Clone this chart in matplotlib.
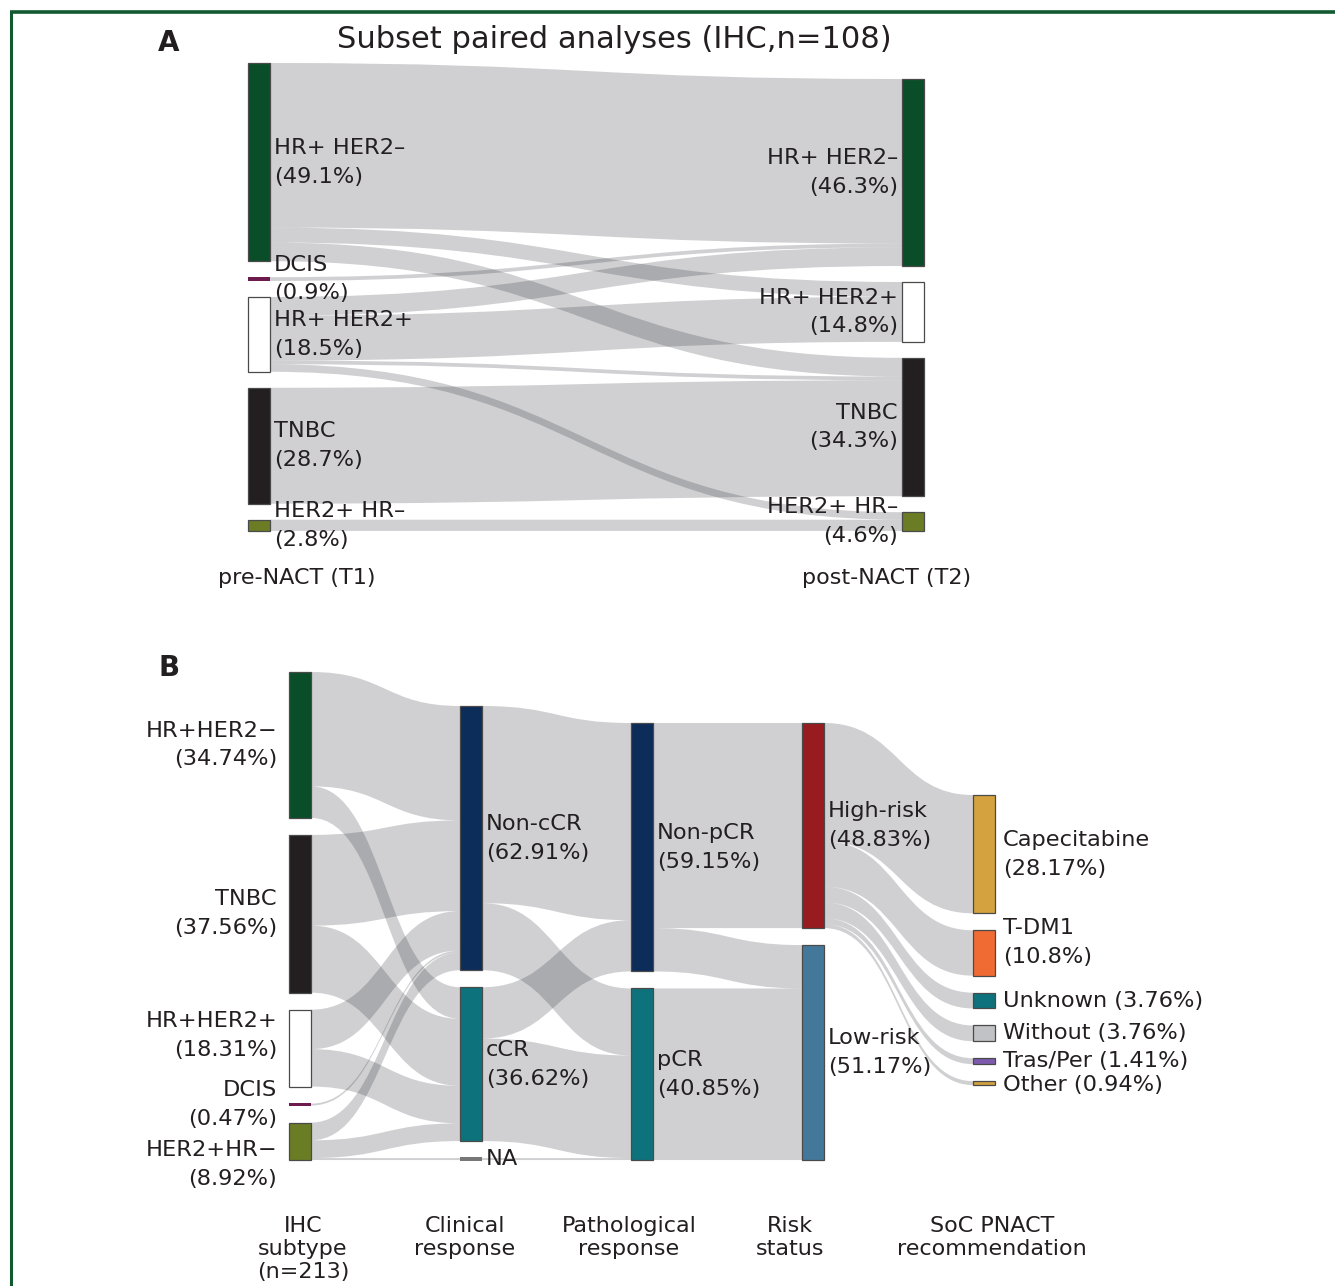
import matplotlib
matplotlib.use("Agg")
import matplotlib.pyplot as plt
from matplotlib.path import Path
from matplotlib.patches import PathPatch, Rectangle

# ---------------- Data: panel A (IHC paired subset, n=108) ----------------
a_left_labels = ["HR+ HER2–\n(49.1%)", "DCIS\n(0.9%)", "HR+ HER2+\n(18.5%)",
                 "TNBC\n(28.7%)", "HER2+ HR–\n(2.8%)"]
a_left_values = [53, 1, 20, 31, 3]
a_right_labels = ["HR+ HER2–\n(46.3%)", "HR+ HER2+\n(14.8%)", "TNBC\n(34.3%)",
                  "HER2+ HR–\n(4.6%)"]
a_right_values = [50, 16, 37, 5]
a_link_source = [0, 0, 0, 1, 2, 2, 2, 2, 3, 4]
a_link_target = [0, 1, 2, 0, 0, 1, 2, 3, 2, 3]
a_link_value = [44, 4, 5, 1, 5, 12, 1, 2, 31, 3]
a_axis_labels = ["pre-NACT (T1)", "post-NACT (T2)"]
a_title = "Subset paired analyses (IHC,n=108)"

# ---------------- Data: panel B (n=213) ----------------
b_ihc_labels = ["HR+HER2−\n(34.74%)", "TNBC\n(37.56%)", "HR+HER2+\n(18.31%)",
                "DCIS\n(0.47%)", "HER2+HR−\n(8.92%)"]
b_ihc_values = [74, 80, 39, 1, 19]
b_clin_labels = ["Non-cCR\n(62.91%)", "cCR\n(36.62%)", "NA"]
b_clin_values = [134, 78, 1]
b_path_labels = ["Non-pCR\n(59.15%)", "pCR\n(40.85%)"]
b_path_values = [126, 87]
b_risk_labels = ["High-risk\n(48.83%)", "Low-risk\n(51.17%)"]
b_risk_values = [104, 109]
b_soc_labels = ["Capecitabine\n(28.17%)", "T-DM1\n(10.8%)", "Unknown (3.76%)",
                "Without (3.76%)", "Tras/Per (1.41%)", "Other (0.94%)"]
b_soc_values = [60, 23, 8, 8, 3, 2]

b_ihc_clin_source = [0, 0, 1, 1, 2, 2, 3, 4, 4, 4]
b_ihc_clin_target = [0, 1, 0, 1, 0, 1, 0, 0, 1, 2]
b_ihc_clin_value = [58, 16, 46, 34, 20, 19, 1, 9, 9, 1]
b_clin_path_source = [0, 0, 1, 1, 2]
b_clin_path_target = [0, 1, 0, 1, 1]
b_clin_path_value = [100, 34, 26, 52, 1]
b_path_risk_source = [0, 0, 1]
b_path_risk_target = [0, 1, 1]
b_path_risk_value = [104, 22, 87]
b_risk_soc_source = [0, 0, 0, 0, 0, 0]
b_risk_soc_target = [0, 1, 2, 3, 4, 5]
b_risk_soc_value = [60, 23, 8, 8, 3, 2]
b_axis_labels = ["IHC\nsubtype\n(n=213)", "Clinical\nresponse", "Pathological\nresponse",
                 "Risk\nstatus", "SoC PNACT\nrecommendation"]

# ---------------- Styles ----------------
C_HRneg = "#0a4e29"
C_DCIS = "#6d1a4e"
C_HRpos = "#ffffff"
C_TNBC = "#231f20"
C_HER2 = "#6a7d25"
C_NAVY = "#0c2c5a"
C_TEAL = "#0e727c"
a_left_colors = [C_HRneg, C_DCIS, C_HRpos, C_TNBC, C_HER2]
a_right_colors = [C_HRneg, C_HRpos, C_TNBC, C_HER2]
b_ihc_colors = [C_HRneg, C_TNBC, C_HRpos, C_DCIS, C_HER2]
b_clin_colors = [C_NAVY, C_TEAL, "#777777"]
b_path_colors = [C_NAVY, C_TEAL]
b_risk_colors = ["#981b1f", "#44789a"]
b_soc_colors = ["#d4a23e", "#f06a33", C_TEAL, "#c1c2c5", "#7d5aae", "#d4a23e"]

LINK_COLOR = (0.08, 0.09, 0.12, 0.20)
EDGE_COLOR = "#4a4a4a"
LABEL_FS = 16.2
LINE_H = 28.8
AXIS_FS = 16
FONT = "DejaVu Sans"

W, H = 1335, 1286
fig = plt.figure(figsize=(W / 100, H / 100), dpi=100)
ax = fig.add_axes([0, 0, 1, 1])
ax.set_xlim(0, W)
ax.set_ylim(H, 0)
ax.axis("off")


def layout(values, top, scale, gap):
    pos = []
    y = top
    for v in values:
        h = v * scale
        pos.append([y, y + h])
        y += h + gap
    return pos


def draw_nodes(pos, x, width, colors):
    for (y0, y1), c in zip(pos, colors):
        h = y1 - y0
        if h < 3.9:
            yc = (y0 + y1) / 2
            ax.add_patch(Rectangle((x, yc - 1.7), width, 3.4, facecolor=c,
                                   edgecolor="none", zorder=3))
        else:
            ax.add_patch(Rectangle((x, y0), width, h, facecolor=c, edgecolor=EDGE_COLOR,
                                   linewidth=0.9, zorder=3))


def draw_links(src_pos, tgt_pos, xs, xt, sources, targets, values, scale):
    out_off = [p[0] for p in src_pos]
    in_off = [p[0] for p in tgt_pos]
    xm = (xs + xt) / 2
    for s, t, v in zip(sources, targets, values):
        h = v * scale
        ys0, yt0 = out_off[s], in_off[t]
        ys1, yt1 = ys0 + h, yt0 + h
        out_off[s] += h
        in_off[t] += h
        verts = [(xs, ys0), (xm, ys0), (xm, yt0), (xt, yt0),
                 (xt, yt1), (xm, yt1), (xm, ys1), (xs, ys1), (xs, ys0)]
        codes = [Path.MOVETO, Path.CURVE4, Path.CURVE4, Path.CURVE4,
                 Path.LINETO, Path.CURVE4, Path.CURVE4, Path.CURVE4, Path.CLOSEPOLY]
        ax.add_patch(PathPatch(Path(verts, codes), facecolor=LINK_COLOR,
                               edgecolor="none", linewidth=0, zorder=1))


def draw_labels(pos, labels, x, ha, offsets=None, fs=LABEL_FS):
    for i, ((y0, y1), lab) in enumerate(zip(pos, labels)):
        yc = (y0 + y1) / 2 + (offsets[i] if offsets else 0)
        lines = lab.split("\n")
        n = len(lines)
        for j, line in enumerate(lines):
            yy = yc + (j - (n - 1) / 2) * LINE_H
            ax.text(x, yy, line, ha=ha, va="center", fontsize=fs, family=FONT,
                    color="#231f20", zorder=4)


# ---------------- Panel A ----------------
SA = 3.74
a_left_pos = layout(a_left_values, 63, SA, 16)
a_right_pos = layout(a_right_values, 79, SA, 16)
AX_L, AX_R, AW = 248, 902, 22
draw_links(a_left_pos, a_right_pos, AX_L + AW, AX_R, a_link_source, a_link_target,
           a_link_value, SA)
draw_nodes(a_left_pos, AX_L, AW, a_left_colors)
draw_nodes(a_right_pos, AX_R, AW, a_right_colors)
draw_labels(a_left_pos, a_left_labels, AX_L + AW + 4, "left")
draw_labels(a_right_pos, a_right_labels, AX_R - 4, "right")
ax.text(614, 40, a_title, ha="center", va="center", fontsize=22, family=FONT, color="#231f20")
ax.text(297, 578, a_axis_labels[0], ha="center", va="center", fontsize=AXIS_FS, family=FONT,
        color="#231f20")
ax.text(887, 578, a_axis_labels[1], ha="center", va="center", fontsize=AXIS_FS, family=FONT,
        color="#231f20")

# ---------------- Panel B ----------------
SB = 1.972
GB = 17
BW = 22
bx = [289, 460, 631, 802, 973]
b_pos = [layout(b_ihc_values, 672, SB, GB), layout(b_clin_values, 706, SB, GB),
         layout(b_path_values, 723, SB, GB), layout(b_risk_values, 723, SB, GB),
         layout(b_soc_values, 795, SB, GB)]
draw_links(b_pos[0], b_pos[1], bx[0] + BW, bx[1], b_ihc_clin_source, b_ihc_clin_target,
           b_ihc_clin_value, SB)
draw_links(b_pos[1], b_pos[2], bx[1] + BW, bx[2], b_clin_path_source, b_clin_path_target,
           b_clin_path_value, SB)
draw_links(b_pos[2], b_pos[3], bx[2] + BW, bx[3], b_path_risk_source, b_path_risk_target,
           b_path_risk_value, SB)
draw_links(b_pos[3], b_pos[4], bx[3] + BW, bx[4], b_risk_soc_source, b_risk_soc_target,
           b_risk_soc_value, SB)
for p, x, cols in zip(b_pos, bx, [b_ihc_colors, b_clin_colors, b_path_colors,
                                   b_risk_colors, b_soc_colors]):
    draw_nodes(p, x, BW, cols)
draw_labels(b_pos[0], b_ihc_labels, bx[0] - 12, "right", offsets=[0, 0, -12.5, 0, 23])
draw_labels(b_pos[1], b_clin_labels, bx[1] + BW + 4, "left")
draw_labels(b_pos[2], b_path_labels, bx[2] + BW + 4, "left")
draw_labels(b_pos[3], b_risk_labels, bx[3] + BW + 4, "left")
draw_labels(b_pos[4], b_soc_labels, bx[4] + BW + 8, "left", offsets=[0, -10.5, 0, 0, 0, 2])

b_axis_x = [303, 465, 629, 790, 992]
for x, lab in zip(b_axis_x, b_axis_labels):
    for j, line in enumerate(lab.split("\n")):
        ax.text(x, 1226 + j * 23, line, ha="center", va="center", fontsize=AXIS_FS,
                family=FONT, color="#231f20")

# panel letters
ax.text(169, 43, "A", ha="center", va="center", fontsize=20, fontweight="bold",
        family=FONT, color="#231f20")
ax.text(169, 668, "B", ha="center", va="center", fontsize=20, fontweight="bold",
        family=FONT, color="#231f20")

# green frame
FRAME = "#12592f"
ax.plot([10.5, 10.5], [11.5, H + 5], color=FRAME, linewidth=2.2, solid_capstyle="butt")
ax.plot([9.5, W + 5], [11.5, 11.5], color=FRAME, linewidth=2.6, solid_capstyle="butt")

fig.savefig("out.png", dpi=100)
